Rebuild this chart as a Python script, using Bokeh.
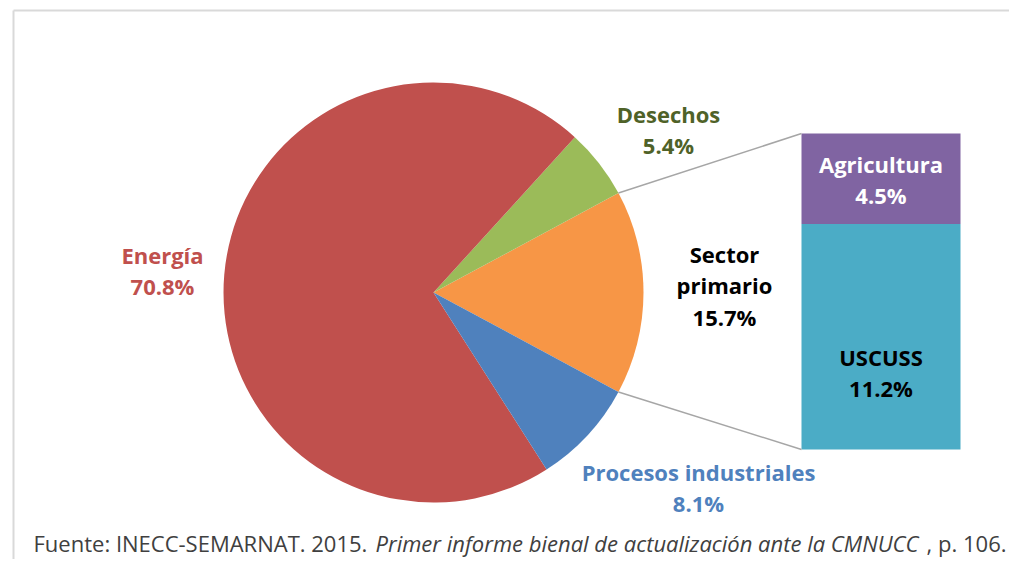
import math
from bokeh.plotting import figure
from bokeh.models import Range1d
from bokeh.core.properties import value
from bokeh.embed import file_html
from bokeh.resources import INLINE

# ---------------- data ----------------
pie_labels = ["Sector primario", "Desechos", "Energía", "Procesos industriales"]
pie_values = [15.7, 5.4, 70.8, 8.1]
pie_colors = ["#F79646", "#9BBB59", "#C0504D", "#4F81BD"]

bar_labels = ["USCUSS", "Agricultura"]          # bottom to top
bar_values = [11.2, 4.5]
bar_colors = ["#4BACC6", "#8064A2"]

source_plain = "Fuente: INECC-SEMARNAT. 2015."
source_italic = "Primer informe bienal de actualización ante la CMNUCC"
source_tail = ", p. 106."

# ---------------- layout (screen px; y = -screen_y) ----------------
W, H = 1009, 559
CX, CY, R = 433, -292, 210
BAR_X0, BAR_X1, BAR_TOP, BAR_BOT = 801, 960, -133, -449
FONT = "Open Sans"

p = figure(width=W, height=H, output_backend="svg", toolbar_location=None,
           x_range=Range1d(0, W), y_range=Range1d(-H, 0),
           min_border=0, background_fill_color="white", border_fill_color="white")
p.axis.visible = False
p.grid.visible = False
p.outline_line_color = None

# frame
p.segment(x0=[13, 13], y0=[-10, -10], x1=[1100, 13], y1=[-10, -700],
          line_color="#d9d9d9", line_width=2)

# pie: primary sector centred on angle 0
total = sum(pie_values)
half = pie_values[0] / total * math.pi
starts, ends = [], []
a = -half
for v in pie_values:
    da = v / total * 2 * math.pi
    starts.append(a)
    ends.append(a + da)
    a += da
p.wedge(x=CX, y=CY, radius=R, start_angle=starts, end_angle=ends,
        fill_color=pie_colors, line_color=None)

# bar of pie (stacked)
btotal = sum(bar_values)
scale = (BAR_TOP - BAR_BOT) / btotal
bottoms, tops = [], []
acc = BAR_BOT
for v in bar_values:
    bottoms.append(acc)
    acc += v * scale
    tops.append(acc)
p.quad(left=BAR_X0, right=BAR_X1, bottom=bottoms, top=tops,
       fill_color=bar_colors, line_color=None)

# connector lines
p.segment(x0=[CX + R * math.cos(half), CX + R * math.cos(-half)],
          y0=[CY + R * math.sin(half), CY + R * math.sin(-half)],
          x1=[BAR_X0, BAR_X0], y1=[BAR_TOP, BAR_BOT],
          line_color="#a6a6a6", line_width=1.5)

# labels
def pct(v):
    return f"{v:.1f}%"

lab_pos = {  # screen positions of label centres
    "Sector primario": (724, -285),
    "Desechos": (668, -129),
    "Energía": (162, -270),
    "Procesos industriales": (698, -487),
}
lab_text = {
    "Sector primario": "Sector\nprimario",
    "Desechos": "Desechos",
    "Energía": "Energía",
    "Procesos industriales": "Procesos industriales",
}
lab_color = {
    "Sector primario": "black",
    "Desechos": "#4F6228",
    "Energía": "#C0504D",
    "Procesos industriales": "#4F81BD",
}
xs, ys, ts, cs = [], [], [], []
for name, v in zip(pie_labels, pie_values):
    x, y = lab_pos[name]
    xs.append(x); ys.append(y)
    ts.append(lab_text[name] + "\n" + pct(v))
    cs.append(lab_color[name])

bx = (BAR_X0 + BAR_X1) / 2
bar_lab_color = {"USCUSS": "black", "Agricultura": "white"}
bar_lab_offset = {"USCUSS": -0.16, "Agricultura": -0.01}
for name, v, b, t in zip(bar_labels, bar_values, bottoms, tops):
    xs.append(bx)
    mid = (b + t) / 2 + bar_lab_offset[name] * (t - b)
    ys.append(mid)
    ts.append(name + "\n" + pct(v))
    cs.append(bar_lab_color[name])

p.text(x=xs, y=ys, text=ts, text_color=cs, text_font=value(FONT),
       text_font_style="bold", text_font_size="22px", text_align="center",
       text_baseline="middle", text_line_height=1.04)

# source footer
FOOT_Y = -542
p.text(x=[33], y=[FOOT_Y], text=[source_plain], text_font=value(FONT),
       text_font_size="22px", text_color="#404040", text_baseline="middle")
p.text(x=[375], y=[FOOT_Y], text=[source_italic], text_font=value(FONT),
       text_font_style="italic", text_font_size="22px", text_color="#404040",
       text_baseline="middle")
p.text(x=[1006], y=[FOOT_Y], text=[source_tail], text_font=value(FONT),
       text_font_size="22px", text_color="#404040", text_baseline="middle",
       text_align="right")

open("out.html", "w").write(file_html(p, INLINE))
